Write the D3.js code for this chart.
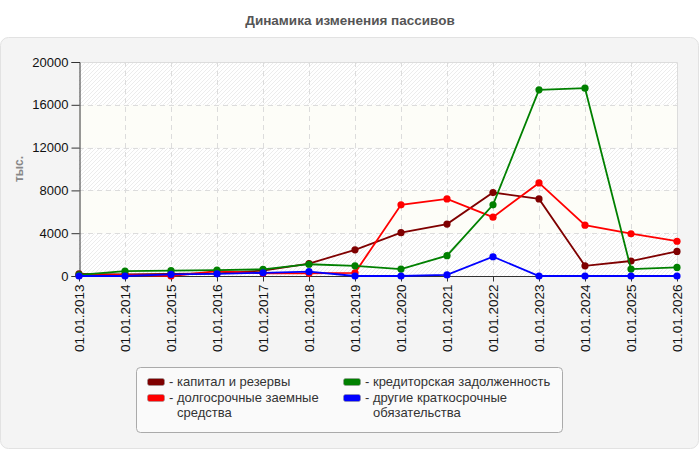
<!DOCTYPE html>
<html>
<head>
<meta charset="utf-8">
<script src="https://cdn.jsdelivr.net/npm/d3@7"></script>
<style>
  body { margin: 0; background: #fff; font-family: "Liberation Sans", Arial, sans-serif; }
  svg text { font-family: "Liberation Sans", Arial, sans-serif; }
</style>
</head>
<body>
<div id="chart"></div>
<script>
// dates on the x axis
var dates = ['01.01.2013', '01.01.2014', '01.01.2015', '01.01.2016', '01.01.2017', '01.01.2018', '01.01.2019',
  '01.01.2020', '01.01.2021', '01.01.2022', '01.01.2023', '01.01.2024', '01.01.2025', '01.01.2026']

var seriesNames = ['капитал и резервы', 'долгосрочные заемные средства', 'кредиторская задолженность', 'другие краткосрочные обязательства']
var seriesColors = ['#7f0000', '#ff0000', '#008000', '#0000ff']

var kapital   = [200, 150, 200, 250, 500, 1150, 2450, 4050, 4850, 7800, 7200, 950, 1400, 2300]
var dolgosr   = [50, 100, 0, 450, 250, 250, 300, 6650, 7200, 5500, 8700, 4750, 3950, 3250]
var kreditor  = [100, 450, 500, 550, 620, 1100, 950, 650, 1900, 6650, 17400, 17550, 650, 800]
var drugie    = [0, 0, 150, 200, 300, 400, 0, 0, 100, 1800, 0, 0, 0, 0]

var yTicks = [0, 4000, 8000, 12000, 16000, 20000]

var allSeries = [kapital, dolgosr, kreditor, drugie]

var W = 700, H = 450
var svg = d3.select('#chart').append('svg').attr('width', W).attr('height', H)

// title
svg.append('text').attr('x', 350).attr('y', 25).attr('text-anchor', 'middle')
  .style('font-size', '13.5px').style('font-weight', 'bold').style('fill', '#555')
  .text('Динамика изменения пассивов')

// outer panel
svg.append('rect').attr('x', 0.5).attr('y', 37.5).attr('width', 698).attr('height', 411).attr('rx', 8)
  .style('fill', '#f4f4f4').style('stroke', '#e2e2e2')

var m = {left: 79, top: 62, right: 677, bottom: 276}
var x = d3.scalePoint().domain(dates).range([m.left, m.right])
var y = d3.scaleLinear().domain([0, 20000]).range([m.bottom, m.top])

// hatch pattern
var defs = svg.append('defs')
var pat = defs.append('pattern').attr('id', 'hatch').attr('patternUnits', 'userSpaceOnUse')
  .attr('width', 4).attr('height', 4)
pat.append('rect').attr('width', 4).attr('height', 4).style('fill', '#fff')
pat.append('path').attr('d', 'M-1,1 l2,-2 M0,4 l4,-4 M3,5 l2,-2').style('stroke', '#ececec').style('stroke-width', 1)

// bands
for (var i = 0; i < yTicks.length - 1; i++) {
  svg.append('rect')
    .attr('x', m.left).attr('y', y(yTicks[i + 1]))
    .attr('width', m.right - m.left).attr('height', y(yTicks[i]) - y(yTicks[i + 1]))
    .style('fill', i % 2 == 0 ? 'url(#hatch)' : '#fdfdf8')
}

// grid
svg.append('g').selectAll('line').data(dates.slice(1, -1)).join('line')
  .attr('x1', d => x(d) + 0.5).attr('x2', d => x(d) + 0.5)
  .attr('y1', m.top).attr('y2', m.bottom)
  .style('stroke', '#dcdcdc').style('stroke-dasharray', '5,4')
svg.append('g').selectAll('line').data(yTicks.slice(1, -1)).join('line')
  .attr('x1', m.left).attr('x2', m.right)
  .attr('y1', d => Math.round(y(d)) + 0.5).attr('y2', d => Math.round(y(d)) + 0.5)
  .style('stroke', '#dcdcdc').style('stroke-dasharray', '5,4')

// top / right frame
svg.append('path').attr('d', 'M' + m.left + ',' + (m.top + 0.5) + 'H' + (m.right + 0.5) + 'V' + m.bottom)
  .style('fill', 'none').style('stroke', '#dcdcdc')

// axes
var yAxis = svg.append('g').attr('transform', 'translate(' + (m.left + 0.5) + ',0)')
  .call(d3.axisLeft(y).tickValues(yTicks).tickSize(8).tickPadding(3).tickFormat(d3.format('d')))
yAxis.selectAll('text').style('font-size', '13px').style('fill', '#111')
yAxis.selectAll('line, path').style('stroke', '#333')

var xAxis = svg.append('g').attr('transform', 'translate(0,' + (m.bottom + 0.5) + ')')
  .call(d3.axisBottom(x).tickSize(5).tickSizeOuter(0))
xAxis.select('.domain').attr('d', 'M' + (m.left + 0.5) + ',0H' + (m.right + 0.5)).style('stroke', '#333')
xAxis.selectAll('line').style('stroke', '#333')
xAxis.selectAll('text')
  .attr('transform', 'rotate(-90)').attr('x', -8).attr('y', 0).attr('dy', '0.35em')
  .style('text-anchor', 'end').style('font-size', '13.5px').style('fill', '#111')

// y title
svg.append('text').attr('transform', 'translate(23,169) rotate(-90)').attr('text-anchor', 'middle')
  .style('font-size', '12px').style('font-weight', 'bold').style('fill', '#888').text('тыс.')

// lines
var line = d3.line().x((d, i) => x(dates[i])).y(d => y(d))
allSeries.forEach(function(s, k) {
  var g = svg.append('g')
  g.append('path').attr('d', line(s)).style('fill', 'none')
    .style('stroke', seriesColors[k]).style('stroke-width', 1.8)
  g.selectAll('circle').data(s).join('circle')
    .attr('cx', (d, i) => x(dates[i])).attr('cy', d => y(d)).attr('r', 3.6)
    .style('fill', seriesColors[k])
})

// legend
svg.append('rect').attr('x', 136.5).attr('y', 367.5).attr('width', 426).attr('height', 65).attr('rx', 4)
  .style('fill', '#fafafa').style('stroke', '#aaa')

var legendPos = [[147, 378], [147, 394], [343, 378], [343, 394]]
var legendLines = [['капитал и резервы'], ['долгосрочные заемные', 'средства'], ['кредиторская задолженность'], ['другие краткосрочные', 'обязательства']]
seriesNames.forEach(function(name, k) {
  var p = legendPos[k]
  svg.append('rect').attr('x', p[0] + 0.5).attr('y', p[1] + 0.5).attr('width', 17).attr('height', 7).attr('rx', 2)
    .style('fill', seriesColors[k]).style('stroke', '#999').style('stroke-width', 0.6)
  var t = svg.append('text').attr('x', p[0] + 22).attr('y', p[1] + 8)
    .style('font-size', '13px').style('fill', '#333')
  legendLines[k].forEach(function(l, j) {
    t.append('tspan').attr('x', j == 0 ? p[0] + 22 : p[0] + 30).attr('dy', j == 0 ? 0 : 15)
      .text(j == 0 ? '- ' + l : l)
  })
})
</script>
</body>
</html>
